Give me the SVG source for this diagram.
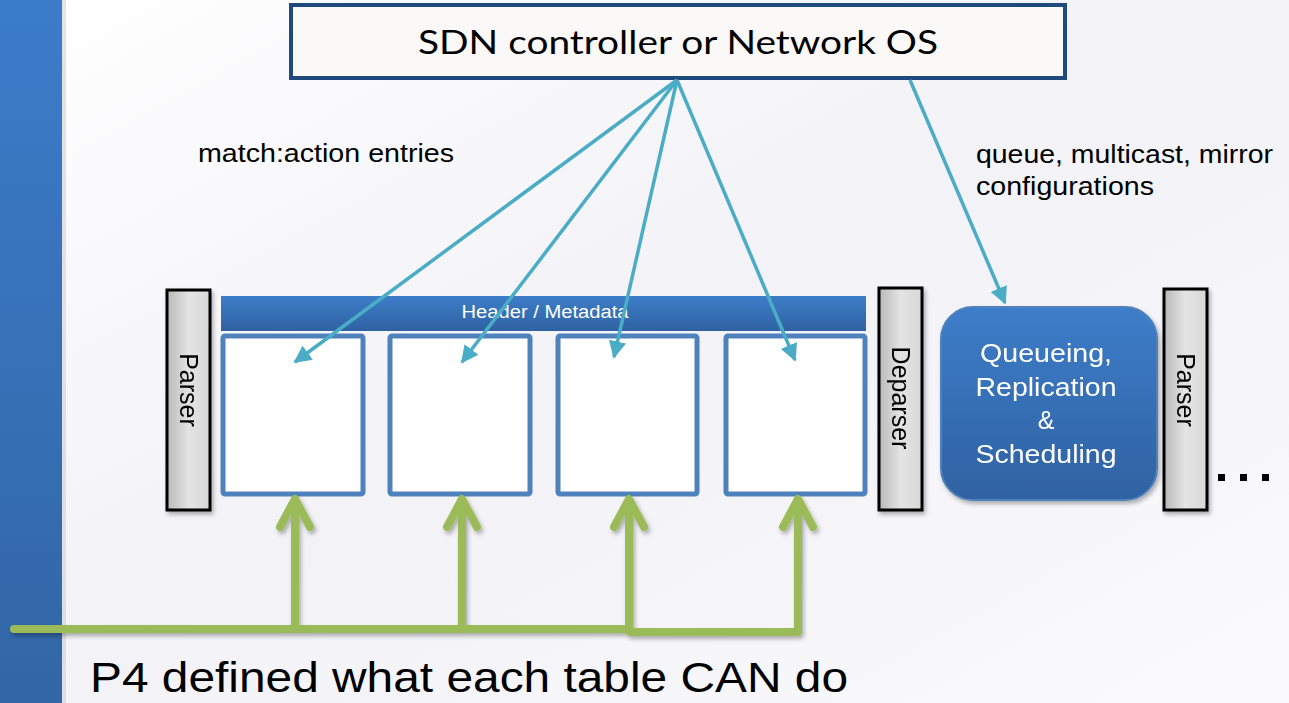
<svg xmlns="http://www.w3.org/2000/svg" width="1289" height="703" viewBox="0 0 1289 703">
<defs>
<linearGradient id="bg" x1="0" y1="0" x2="1" y2="1">
<stop offset="0" stop-color="#ffffff"/><stop offset="0.5" stop-color="#f2f2f7"/><stop offset="1" stop-color="#fbfbfd"/>
</linearGradient>
<linearGradient id="bar" x1="0" y1="0" x2="0" y2="1">
<stop offset="0" stop-color="#3b7cc9"/><stop offset="1" stop-color="#3266a6"/>
</linearGradient>
<linearGradient id="gray" x1="0" y1="0" x2="1" y2="0">
<stop offset="0" stop-color="#b8b8b8"/><stop offset="0.5" stop-color="#e4e4e4"/><stop offset="1" stop-color="#d8d8d8"/>
</linearGradient>
<linearGradient id="blue" x1="0" y1="0" x2="0" y2="1">
<stop offset="0" stop-color="#3d7dc9"/><stop offset="1" stop-color="#2f62a2"/>
</linearGradient>
<marker id="ta" viewBox="0 0 10 10" refX="9" refY="5" markerWidth="5" markerHeight="5" orient="auto" markerUnits="strokeWidth">
<path d="M0,0 L10,5 L0,10 Z" fill="#4bacc6"/>
</marker>
<filter id="sh" x="-10%" y="-10%" width="130%" height="130%">
<feDropShadow dx="2" dy="3" stdDeviation="2" flood-color="#000" flood-opacity="0.3"/>
</filter>
</defs>
<style>
.gb{fill:url(#gray);stroke:#000;stroke-width:3}
.tbl{fill:#fff;stroke:#4f81bd;stroke-width:5}
.teal{stroke:#4bacc6;stroke-width:3.5;fill:none;marker-end:url(#ta)}
.green{stroke:#9bbb59;stroke-width:8;fill:none;stroke-linecap:round;stroke-linejoin:round}
.lbl{font-family:"Liberation Sans",Arial,sans-serif;fill:#000}
.wt{font-family:"Liberation Sans",Arial,sans-serif;fill:#fff;text-anchor:middle}
.vt{font-family:"Liberation Sans",Arial,sans-serif;font-size:25px;fill:#000;text-anchor:middle}
</style>
<rect x="0" y="0" width="1289" height="703" fill="url(#bg)"/>
<rect x="0" y="0" width="62" height="703" fill="url(#bar)"/>
<rect x="62" y="0" width="4" height="703" fill="#d0d0d0" opacity="0.6"/>

<g id="sdn">
<rect x="291" y="5" width="774" height="73" fill="#faf9f8" stroke="#1f4a7d" stroke-width="4"/>
<text x="678" y="54" font-family="Lato, sans-serif" font-size="32" text-anchor="middle" textLength="520" lengthAdjust="spacingAndGlyphs">SDN controller or Network OS</text>
</g>

<g id="parser1" filter="url(#sh)">
<rect class="gb" x="167" y="290" width="43" height="220"/>
<text class="vt" transform="translate(180,390) rotate(90)">Parser</text>
</g>

<g id="header">
<rect x="221" y="296" width="645" height="35" fill="url(#blue)"/>
<text class="wt" x="545" y="318" font-size="18" textLength="167" lengthAdjust="spacingAndGlyphs">Header / Metadata</text>
</g>

<g id="table1"><rect class="tbl" x="223" y="336" width="140" height="158" rx="2"/></g>
<g id="table2"><rect class="tbl" x="390" y="336" width="140" height="158" rx="2"/></g>
<g id="table3"><rect class="tbl" x="558" y="336" width="139" height="158" rx="2"/></g>
<g id="table4"><rect class="tbl" x="726" y="336" width="139" height="158" rx="2"/></g>

<g id="deparser" filter="url(#sh)">
<rect class="gb" x="879" y="288" width="43" height="222"/>
<text class="vt" transform="translate(892,398) rotate(90)">Deparser</text>
</g>

<g id="queueing" filter="url(#sh)">
<rect x="941" y="307" width="216" height="193" rx="32" fill="url(#blue)" stroke="#4f81bd" stroke-width="2"/>
<text class="wt" font-size="25"><tspan x="1046" y="362" textLength="132" lengthAdjust="spacingAndGlyphs">Queueing,</tspan><tspan x="1046" y="396" textLength="141" lengthAdjust="spacingAndGlyphs">Replication</tspan><tspan x="1046" y="429">&amp;</tspan><tspan x="1046" y="463" textLength="141" lengthAdjust="spacingAndGlyphs">Scheduling</tspan></text>
</g>

<g id="parser2" filter="url(#sh)">
<rect class="gb" x="1164" y="289" width="43" height="221"/>
<text class="vt" transform="translate(1177,390) rotate(90)">Parser</text>
</g>

<g id="dots" fill="#000">
<rect x="1218" y="474" width="7" height="7"/><rect x="1240" y="474" width="7" height="7"/><rect x="1262" y="474" width="7" height="7"/>
</g>

<g id="connectors">
<line class="teal" x1="677" y1="80" x2="295" y2="362"/>
<line class="teal" x1="677" y1="80" x2="462" y2="362"/>
<line class="teal" x1="677" y1="80" x2="614" y2="357"/>
<line class="teal" x1="677" y1="80" x2="795" y2="360"/>
<line class="teal" x1="910" y1="80" x2="1005" y2="303"/>
<g class="green" filter="url(#sh)">
<path d="M14,629 H630"/>
<path d="M630,632 H798 V500"/>
<path d="M295,629 V500 M280,527 L295,499 L310,527"/>
<path d="M462,629 V500 M447,527 L462,499 L477,527"/>
<path d="M629,629 V500 M614,527 L629,499 L644,527"/>
<path d="M783,527 L798,499 L813,527"/>
</g>
</g>

<g id="labels">
<text class="lbl" x="198" y="162" font-size="25" textLength="256" lengthAdjust="spacingAndGlyphs">match:action entries</text>
<text class="lbl" x="976" y="163" font-size="25" textLength="297" lengthAdjust="spacingAndGlyphs">queue, multicast, mirror</text>
<text class="lbl" x="976" y="195" font-size="25" textLength="178" lengthAdjust="spacingAndGlyphs">configurations</text>
<text class="lbl" x="90" y="692" font-size="43" textLength="758" lengthAdjust="spacingAndGlyphs">P4 defined what each table CAN do</text>
</g>
</svg>
